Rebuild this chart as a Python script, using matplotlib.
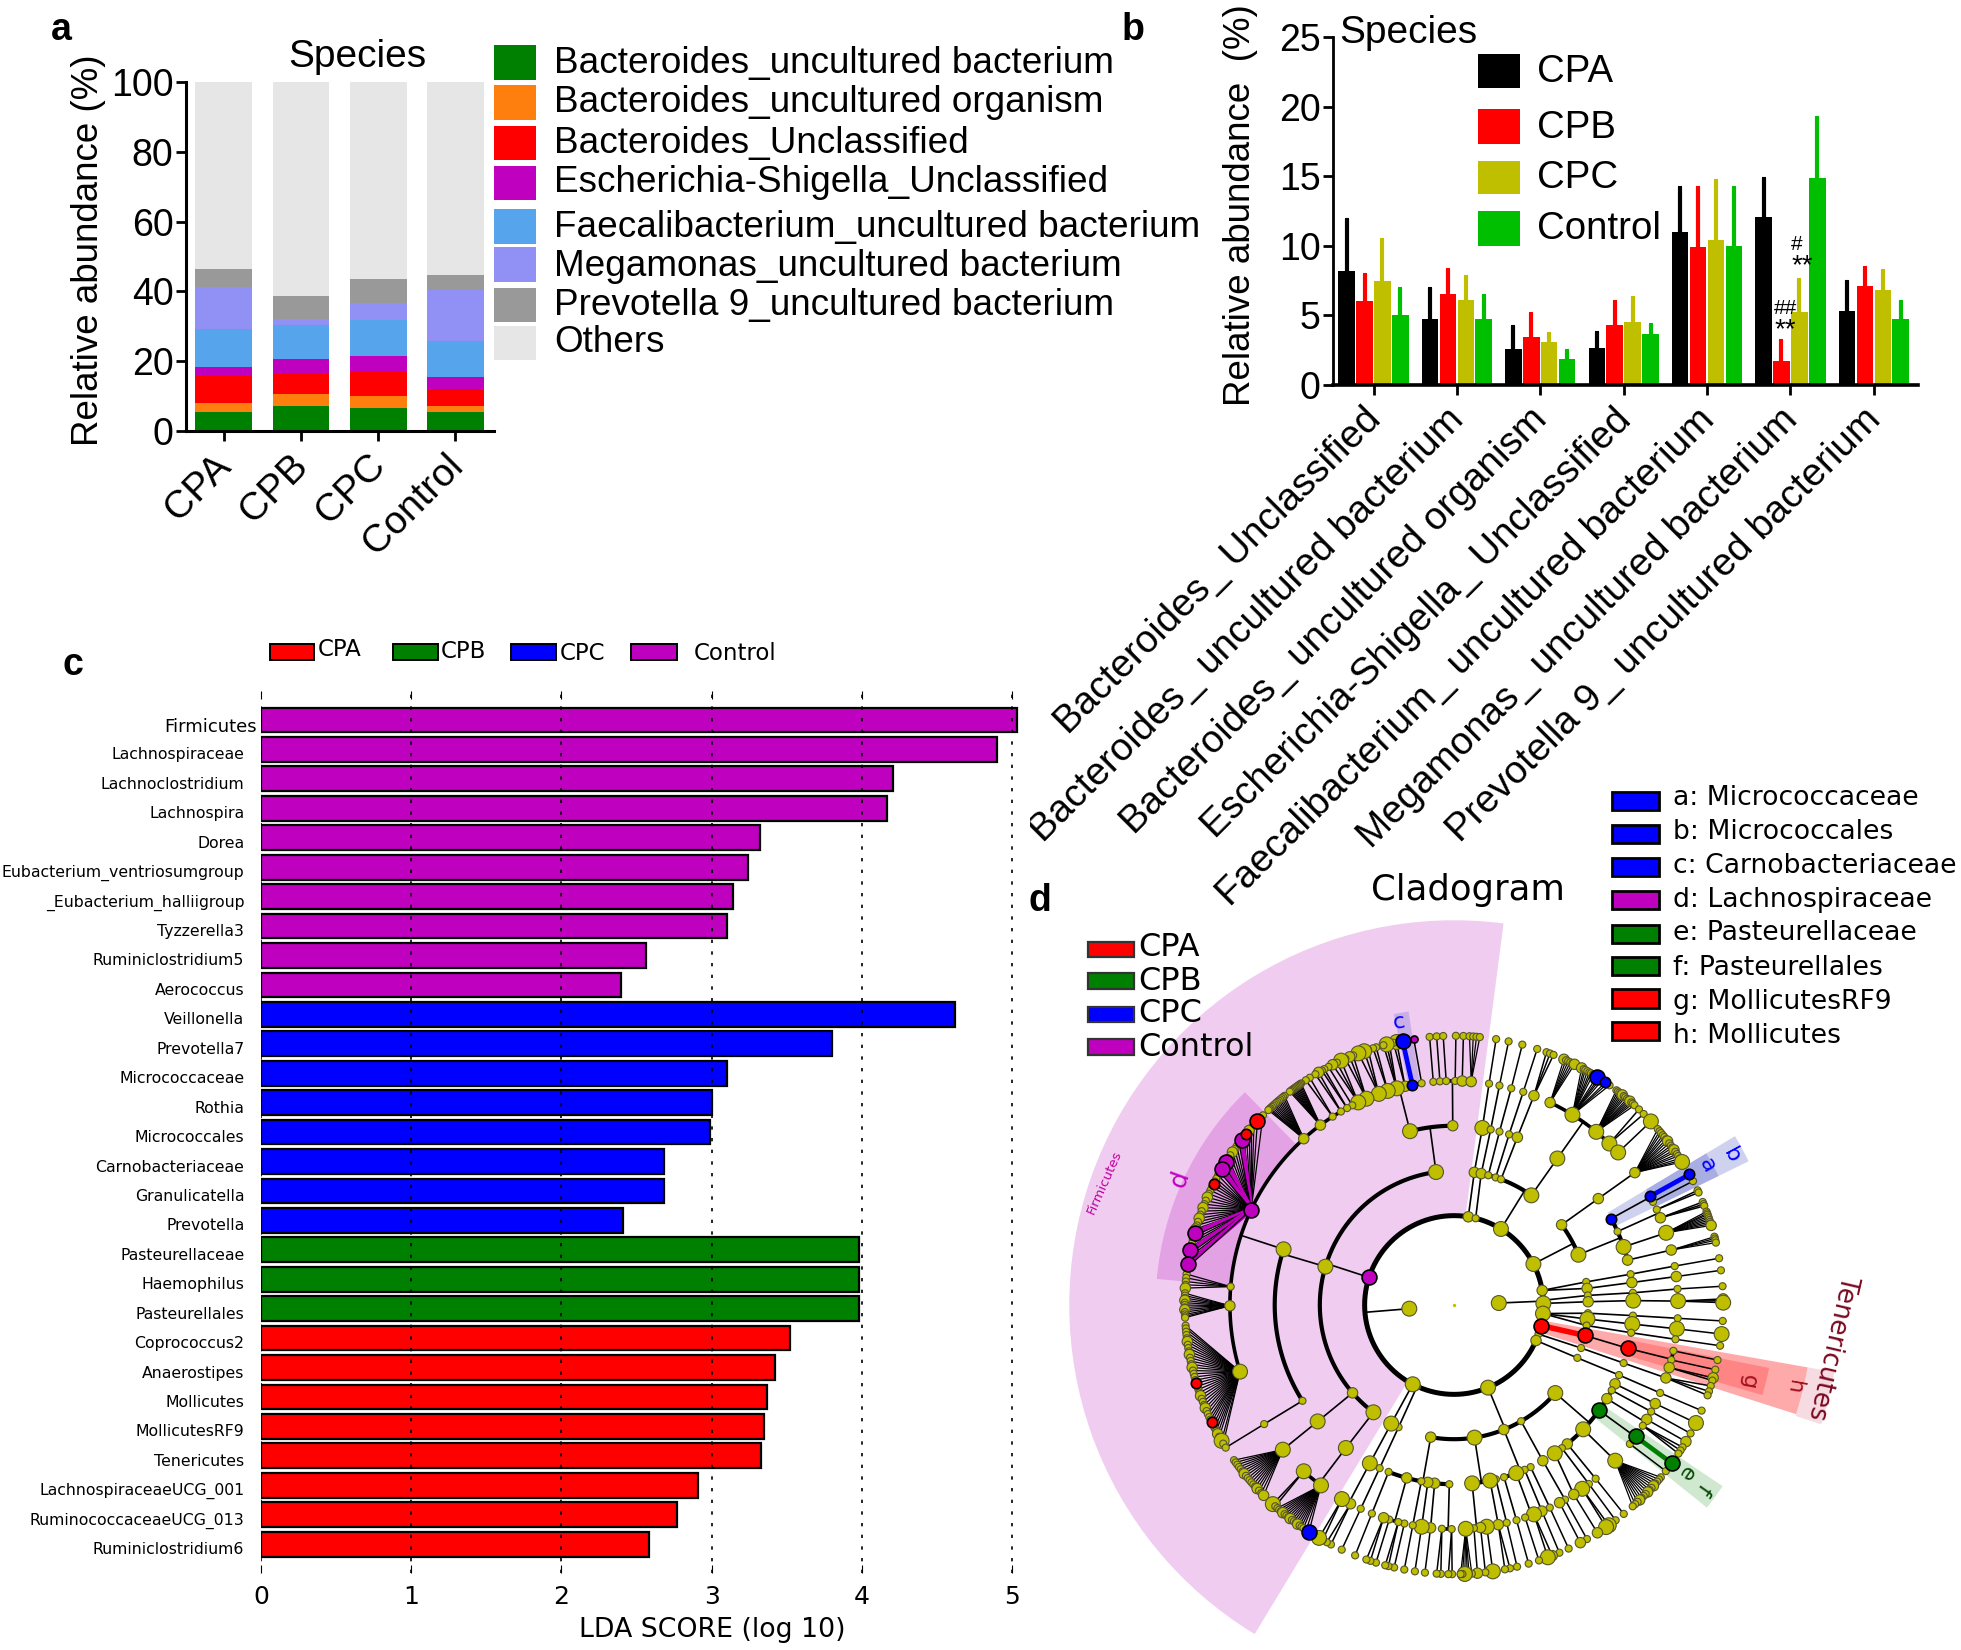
import numpy as np
import matplotlib
matplotlib.use('Agg')
import matplotlib.pyplot as plt
from matplotlib.patches import Rectangle, Wedge
from matplotlib.transforms import ScaledTranslation

plt.rcParams['font.family'] = ['Liberation Sans', 'DejaVu Sans']

W, H = 1961, 1650
RED, GREEN, BLUE, PURPLE = '#ff0000', '#008000', '#0000ff', '#bf00bf'
YEL = '#bfbf00'

# panel a
groups_a = ['CPA', 'CPB', 'CPC', 'Control']
species_a = ['Bacteroides_uncultured bacterium', 'Bacteroides_uncultured organism', 'Bacteroides_Unclassified',
             'Escherichia-Shigella_Unclassified', 'Faecalibacterium_uncultured bacterium',
             'Megamonas_uncultured bacterium', 'Prevotella 9_uncultured bacterium', 'Others']
colors_a = ['#008000', '#ff7f0e', '#ff0000', '#bf00bf', '#56a5ec', '#9090f5', '#999999', '#e6e6e6']
bact_unc = [5.4, 7.1, 6.7, 5.4]
bact_org = [2.5, 3.5, 3.2, 1.8]
bact_uncl = [7.8, 5.7, 7.1, 4.8]
esch = [2.7, 4.2, 4.6, 3.6]
faec = [10.9, 9.9, 10.1, 10.1]
mega = [12.0, 1.6, 5.0, 14.7]
prev = [5.1, 6.6, 6.8, 4.3]
others = [53.6, 61.4, 56.5, 55.3]

# panel b
species_b = ['Bacteroides_ Unclassified', 'Bacteroides_ uncultured bacterium', 'Bacteroides_ uncultured organism',
             'Escherichia-Shigella_ Unclassified', 'Faecalibacterium_ uncultured bacterium',
             'Megamonas_ uncultured bacterium', 'Prevotella 9_ uncultured bacterium']
cpa_mean = [8.2, 4.75, 2.6, 2.65, 11.0, 12.05, 5.35]
cpa_top = [11.9, 7.0, 4.25, 3.8, 14.2, 14.85, 7.45]
cpb_mean = [6.0, 6.55, 3.45, 4.3, 9.9, 1.75, 7.1]
cpb_top = [8.0, 8.35, 5.2, 6.05, 14.2, 3.2, 8.45]
cpc_mean = [7.45, 6.1, 3.1, 4.55, 10.45, 5.25, 6.85]
cpc_top = [10.5, 7.85, 3.75, 6.3, 14.7, 7.65, 8.25]
ctl_mean = [5.0, 4.75, 1.9, 3.65, 9.95, 14.9, 4.75]
ctl_top = [7.0, 6.5, 2.55, 4.4, 14.25, 19.25, 6.05]

# panel c
taxa_c = ['Firmicutes', 'Lachnospiraceae', 'Lachnoclostridium', 'Lachnospira', 'Dorea', 'Eubacterium_ventriosumgroup',
          '_Eubacterium_halliigroup', 'Tyzzerella3', 'Ruminiclostridium5', 'Aerococcus', 'Veillonella', 'Prevotella7',
          'Micrococcaceae', 'Rothia', 'Micrococcales', 'Carnobacteriaceae', 'Granulicatella', 'Prevotella',
          'Pasteurellaceae', 'Haemophilus', 'Pasteurellales', 'Coprococcus2', 'Anaerostipes', 'Mollicutes',
          'MollicutesRF9', 'Tenericutes', 'LachnospiraceaeUCG_001', 'RuminococcaceaeUCG_013', 'Ruminiclostridium6']
lda_c = [5.03, 4.90, 4.21, 4.17, 3.32, 3.24, 3.14, 3.10, 2.56, 2.40, 4.62, 3.80, 3.10, 3.00, 2.99, 2.68, 2.68, 2.41,
         3.98, 3.98, 3.98, 3.52, 3.42, 3.37, 3.35, 3.33, 2.91, 2.77, 2.58]
group_c = [PURPLE] * 10 + [BLUE] * 8 + [GREEN] * 3 + [RED] * 8

# panel d, tree: (angle, abundance class, parent angle)
ring_r = {0: 0.166, 1: 0.331, 2: 0.497, 3: 0.664, 4: 0.83, 5: 0.997}
lv0 = [(184.7, 3), (2.5, 3)]
lv1 = [(162, 3), (80.8, 2), (76, 1), (58.3, 3), (27.3, 3), (9.4, 2), (3, 1), (1, 3), (-5.5, 3), (-13.3, 3), (-19, 1),
       (-23.4, 2), (-67.6, 3), (-114.4, 1), (-117.5, 3)]
lv2 = [(97.7, 3, 162), (163.4, 3, 162), (220.9, 2, 162), (233.1, 3, 162), (81.3, 2, 80.8), (78.3, 2, 76),
       (75.2, 1, 58.3), (71.9, 1, 58.3), (69.5, 1, 58.3), (54.8, 3, 58.3), (36.7, 2, 27.3), (22, 3, 27.3),
       (9.9, 1, 9.4), (7.1, 2, 9.4), (4.1, 1, 3), (1.4, 2, 1), (-3.5, 1, -5.5), (-6, 3, -5.5), (-8.8, 1, -5.5),
       (-13.1, 3, -13.3), (-18.7, 1, -19), (-23.2, 1, -23.4), (-41, 3, -67.6), (-60, 1, -67.6), (-68.2, 2, -67.6),
       (-81.2, 3, -67.6), (-100, 2, -67.6), (-114.4, 1, -114.4), (-117.9, 3, -117.5)]
lv3 = [(104.2, 3, 97.7), (90.4, 2, 97.7), (161.9, 3, 163.4), (212.3, 1, 163.4), (220.5, 3, 220.9), (232.9, 3, 233.1),
       (80.9, 3, 81.3), (78.2, 1, 78.3), (75.3, 1, 75.2), (72.1, 1, 71.9), (69.3, 2, 69.5), (54.8, 3, 54.8),
       (36.4, 2, 36.7), (28.8, 2, 22), (24.2, 1, 22), (18.9, 3, 22), (14.5, 2, 22), (9.9, 1, 9.9), (7.2, 2, 7.1),
       (3.9, 1, 4.1), (1.4, 3, 1.4), (-3.4, 1, -3.5), (-6.1, 3, -6), (-8.9, 1, -8.8), (-14, 3, -13.1),
       (-18.9, 1, -18.7), (-23, 1, -23.2), (-26.1, 2, -41), (-28.4, 1, -41), (-31.5, 2, -41), (-36, 3, -41),
       (-43.9, 3, -41), (-50.8, 2, -41), (-53, 1, -41), (-55.8, 3, -41), (-60.3, 2, -60), (-64.7, 1, -68.2),
       (-66.8, 1, -68.2), (-69.7, 3, -68.2), (-73.8, 1, -68.2), (-76.5, 1, -81.2), (-78.4, 3, -81.2),
       (-84.2, 3, -81.2), (-91.5, 1, -100), (-96.2, 2, -100), (-98.4, 2, -100), (-100.5, 1, -100), (-105.3, 2, -100),
       (-111.4, 1, -100), (-114.5, 1, -114.4), (-118, 3, -117.9)]
lv4 = [(98.3, 1, 104.2), (100.7, 2, 104.2), (102.6, 2, 104.2), (104.8, 3, 104.2), (107.2, 3, 104.2), (109.6, 3, 104.2),
       (113, 3, 104.2), (115.3, 3, 104.2), (117, 1, 161.9), (118.5, 1, 161.9), (120.3, 1, 161.9), (122.8, 1, 161.9),
       (126.6, 2, 161.9), (132.1, 2, 161.9), (154.8, 3, 161.9), (175.3, 1, 161.9), (180.2, 2, 161.9), (197.3, 3, 161.9),
       (95.3, 1, 90.4), (93.6, 1, 90.4), (92, 1, 90.4), (89.7, 1, 90.4), (87.9, 2, 90.4), (85.6, 2, 90.4),
       (212.1, 1, 212.3), (220.2, 3, 220.5), (227.9, 3, 232.9), (233.6, 3, 232.9), (81, 1, 80.9), (78.3, 1, 78.2),
       (75.2, 1, 75.3), (72, 1, 72.1), (69.1, 2, 69.3), (64.6, 2, 54.8), (58.1, 3, 54.8), (50.6, 3, 54.8),
       (46.1, 3, 54.8), (42.9, 3, 54.8), (36.2, 2, 36.4), (29, 2, 28.8), (27.4, 1, 28.8), (25.2, 1, 24.2),
       (22.9, 2, 24.2), (18.8, 3, 18.9), (14.2, 2, 14.5), (10, 1, 9.9), (7.3, 2, 7.2), (4.1, 1, 3.9), (1, 3, 1.4),
       (-3.4, 1, -3.4), (-6.1, 3, -6.1), (-8.8, 1, -8.9), (-11.8, 1, -14), (-14.2, 1, -14), (-16.2, 2, -14),
       (-19, 2, -18.9), (-23.1, 1, -23), (-26.1, 2, -26.1), (-28.4, 1, -28.4), (-30.7, 2, -31.5), (-32.6, 1, -31.5),
       (-35.9, 3, -36), (-38.3, 1, -36), (-44, 3, -43.9), (-50.8, 1, -50.8), (-53, 1, -53), (-55.1, 3, -53),
       (-57.7, 2, -55.8), (-60.3, 1, -60.3), (-61.9, 2, -60.3), (-64.7, 1, -64.7), (-66.9, 2, -66.8), (-69.1, 3, -69.7),
       (-71.5, 1, -69.7), (-73.8, 1, -73.8), (-76.4, 1, -76.5), (-78.6, 2, -78.4), (-81.6, 3, -84.2), (-83.2, 2, -84.2),
       (-84.9, 1, -84.2), (-87, 3, -84.2), (-90.6, 1, -91.5), (-93.1, 1, -91.5), (-96, 2, -96.2), (-98.3, 3, -98.4),
       (-100.6, 1, -100.5), (-102.8, 1, -105.3), (-104.4, 1, -105.3), (-106.8, 1, -105.3), (-108.3, 2, -105.3),
       (-111.5, 1, -111.4), (-114.6, 1, -114.5), (-117.5, 2, -118), (-120, 3, -118)]
# leaves by parent angle on the ring below them
lv5 = {
    98.3: [98.6], 100.7: [101], 102.6: [102.3, 103], 104.8: [103.9, 104.5, 105.2], 107.2: [106.8, 107.5],
    109.6: [108.6, 109.5, 110.8], 113: [112, 112.8, 113.8], 115.3: [114.8, 115.8, 116.8], 117: [117.8],
    118.5: [118.8, 119.4], 120.3: [120.2, 121], 122.8: [122.4, 123.4],
    126.6: [124.6, 124.9, 125.2, 125.5, 125.8, 126.1, 126.4, 126.7, 127, 127.3, 127.6],
    132.1: [129, 129.4, 129.8, 130.2, 130.6, 131, 131.4, 131.8, 132.2, 132.6, 133, 133.3, 133.6],
    154.8: [135.2, 136.9, 138, 138.8, 139.6, 140.5, 141.3, 142.1, 143, 143.8, 144.6, 145.4, 146.2, 147, 147.8, 148.7,
            149.6, 150.4, 151.2, 152, 152.7, 153.3, 154, 154.8, 155.6, 156.4, 157.2, 158, 158.8, 159.6, 160.4, 161.2,
            162, 162.8, 163.6, 164.4, 165.2, 166, 166.8, 167.5, 168.2, 169, 169.8, 170.5, 171.2, 172],
    175.3: [173.4, 174.2, 175, 175.7, 176.4],
    180.2: [177.5, 178, 178.5, 179, 179.5, 180, 180.5, 181, 181.5, 182, 182.4, 182.7],
    197.3: [184.4, 185, 185.7, 186.4, 187.1, 187.8, 188.5, 189.2, 189.9, 190.6, 191.3, 192, 192.7, 193.4, 194.1, 194.8,
            195.5, 196.2, 196.9, 197.6, 198.3, 199, 199.7, 200.4, 201.1, 201.8, 202.5, 203.2, 203.9, 204.6, 205.2,
            205.8, 206.5, 207.2, 207.9, 208.6, 209.3, 210.3, 211],
    95.3: [95.2], 93.6: [93.7], 92: [92.3], 89.7: [89.6], 87.9: [88], 85.6: [86.7, 85.9, 85.2, 84.5],
    212.1: [212],
    220.2: [215.2, 215.8, 216.4, 217, 217.6, 218.2, 218.8, 219.4, 220, 220.6, 221.2, 221.8, 222.4, 223, 223.6, 224.3, 225],
    227.9: [227.7, 228.4],
    233.6: [229, 229.5, 230, 230.5, 231, 231.5, 232, 232.5, 233, 233.5, 234, 234.5, 235, 235.5, 236, 236.7, 237.4],
    81: [81], 78.3: [78.3], 75.2: [75.3], 72: [72], 69.1: [69.9, 69.1, 68.3],
    64.6: [65.9, 65.4, 64.9, 64.4, 63.9, 63.4],
    58.1: [61.7, 61.2, 60.8, 60.3, 59.8, 59.4, 58.9, 58, 57.5, 57.1, 56.6, 55.8, 55.3, 54.7],
    50.6: [52.9, 52.5, 52.1, 51.7, 51.3, 50.9, 50.5, 50, 49.6, 49.2, 48.8, 48.4, 47.9],
    46.1: [46.6, 45.2], 42.9: [43],
    36.2: [40.8, 40.2, 39.7, 39.1, 38.6, 38, 37.5, 36.9, 36.3, 35.8, 35.2, 34.7, 34.1, 33.6, 33, 32.5, 32.1],
    29: [29], 27.4: [27.4], 25.2: [25.2, 24.7], 22.9: [22.5, 22, 21.6],
    18.8: [20.3, 19.9, 19.6, 19.2, 18.8, 18.4, 18, 17.6, 17.2], 14.2: [14.7, 14.3, 13.9, 13.4],
    10: [10], 7.3: [7.4], 4.1: [4], 1: [1.3, 0.9, 0.5], -3.4: [-3.4], -6.1: [-6.2], -8.8: [-8.7],
    -11.8: [-11.8], -14.2: [-13.9], -16.2: [-15.7, -16.3], -19: [-17.5, -18.7, -19.6], -23.1: [-23.1], -26.1: [-26],
    -28.4: [-28.5], -30.7: [-30.5], -32.6: [-31.9, -32.7, -33.5], -35.9: [-36], -38.3: [-38.1],
    -44: [-39.8, -40.4, -41, -41.6, -42.2, -42.8, -43.4, -44, -44.6, -45.2, -45.8, -46.4, -47, -47.7, -48.4],
    -50.8: [-50.9], -53: [-53.1], -55.1: [-54.9, -55.6], -57.7: [-57.8], -60.3: [-60.4], -61.9: [-62],
    -64.7: [-64.8], -66.9: [-66.95], -69.1: [-68.6, -69.6], -71.5: [-71.6], -73.8: [-73.9], -76.4: [-76.45],
    -78.6: [-78, -79.1], -81.6: [-81.7], -83.2: [-83.3], -84.9: [-85],
    -87: [-86.2, -86.8, -87.2, -87.7, -88.2, -88.6], -90.6: [-90.4, -91.2], -93.1: [-92.8, -93.7], -96: [-96.2],
    -98.3: [-98.35], -100.6: [-100.65], -102.8: [-102.85], -104.4: [-104.1, -104.8], -106.8: [-106.85],
    -108.3: [-108.1, -109], -111.5: [-111.55], -114.6: [-114.65], -117.5: [-117.2, -118.2], -120: [-119.2, -120.1],
}
leaf_abund = {102.3: 3, 104.5: 3, 109.5: 3, 110.8: 3, 112.8: 2, 114.8: 3, 116.8: 2, 120.2: 2, 65.9: 2, 63.4: 2, 61.7: 2,
              58: 3, 55.8: 2, 43: 3, 32.1: 3, 29: 2, 101: 3, 136.9: 3, 140.5: 2, 142.1: 3, 147.8: 3, 149.6: 3, 153.3: 2,
              164.4: 3, 168.2: 3, 171.2: 3, 196.9: 2, 205.8: 2, 210.3: 3, 176.4: 2, 227.7: 3, 237.4: 3, -6.2: 3, -26: 3,
              -36: 3, -15.7: 2, -54.9: 3, -55.6: 3, -57.8: 2, -62: 2, -69.6: 3, -68.6: 2, -120.1: 3, -85: 2, -81.7: 3,
              -87.7: 3, 17.2: 2, 0.5: 3, 1.3: 2, 223: 2, 225: 2, -44: 2, -46.4: 2, -30.5: 2, 7.4: 1,
              139.6: 2, 145.4: 2, 156.4: 2, 158.8: 2, 161.2: 2, 163.6: 2, 187.8: 2, 190.6: 2, 193.4: 2, 199.7: 2, 202.5: 2,
              208.6: 2, 179: 2, 181: 2, 230.5: 2, 232.5: 2, 234.5: 2, 218.8: 2, 51.3: 2, 49.2: 2, 35.2: 2, 37.5: 2, -42.2: 2}
marked = {(1, 162): PURPLE, (4, 154.8): PURPLE, (5, 98.6): PURPLE, (5, 142.1): PURPLE, (5, 147.8): PURPLE,
          (5, 149.6): PURPLE, (5, 164.4): PURPLE, (5, 168.2): PURPLE, (5, 171.2): PURPLE,
          (5, 136.9): RED, (5, 140.5): RED, (5, 153.3): RED, (5, 196.9): RED, (5, 205.8): RED,
          (1, -13.3): RED, (2, -13.1): RED, (3, -14): RED,
          (3, 28.8): BLUE, (4, 29): BLUE, (5, 29): BLUE, (4, 100.7): BLUE, (5, 101): BLUE, (5, 58): BLUE,
          (5, 55.8): BLUE, (5, 237.4): BLUE,
          (3, -36): GREEN, (4, -35.9): GREEN, (5, -36): GREEN}
thin_links = [(3, -14), (4, 29)]
straight_from = [(1, 9.4), (1, 3), (1, 1), (1, -5.5)]
arc_lw = {1: 3.6, 2: 3.0, 3: 3.0, 4: 2.6}
node_s = {1: 26, 2: 56, 3: 115}


def px_axes(l, t, r, b):
    return fig.add_axes([l / W, 1 - b / H, (r - l) / W, (b - t) / H])


def polar(r, ang):
    a = np.radians(ang)
    return r * np.cos(a), r * np.sin(a)


def nudge_labels(labels, dx, dy):
    for lab in labels:
        lab.set_transform(lab.get_transform() + ScaledTranslation(dx / 100, dy / 100, fig.dpi_scale_trans))


fig = plt.figure(figsize=(W / 100, H / 100), dpi=100)

# ---- a: stacked bars
ax = px_axes(186, 82, 494, 431)
bottom = np.zeros(4)
for vals, col in zip([bact_unc, bact_org, bact_uncl, esch, faec, mega, prev, others], colors_a):
    ax.bar(range(4), vals, 0.735, bottom=bottom, color=col)
    bottom += np.array(vals)
ax.set_xlim(-0.49, 3.5)
ax.set_ylim(0, 100)
ax.set_yticks([0, 20, 40, 60, 80, 100])
ax.set_xticks(range(4))
ax.set_xticklabels(groups_a, rotation=45, ha='right', va='top', rotation_mode='anchor', fontsize=28)
ax.tick_params(axis='y', labelsize=27, width=2, length=7, pad=2)
ax.tick_params(axis='x', width=2, length=7, pad=5)
nudge_labels(ax.get_xticklabels(), -11, 0)
for s in ['top', 'right']:
    ax.spines[s].set_visible(False)
for s in ['left', 'bottom']:
    ax.spines[s].set_linewidth(2.2)

# ---- b: grouped bars
ax = px_axes(1333, 37, 1918, 385)
step, bw = 0.2146, 0.198
series_b = [(cpa_mean, cpa_top, 'black'), (cpb_mean, cpb_top, '#ff0000'), (cpc_mean, cpc_top, YEL), (ctl_mean, ctl_top, '#00bf00')]
for k, (mean, top, col) in enumerate(series_b):
    xs = np.arange(7) + (k - 1.5) * step
    ax.bar(xs, mean, bw, color=col)
    up = np.array(top) - np.array(mean)
    ax.errorbar(xs, mean, yerr=[np.zeros(7), up], fmt='none', ecolor=col, elinewidth=3, capsize=1.5, capthick=1.5)
ax.set_xlim(-0.486, 6.53)
ax.set_ylim(0, 25)
ax.set_yticks([0, 5, 10, 15, 20, 25])
ax.set_xticks(range(7))
ax.set_xticklabels(species_b, rotation=45, ha='right', va='top', rotation_mode='anchor', fontsize=27.8)
ax.tick_params(axis='y', labelsize=27, width=2, length=7, pad=2)
ax.tick_params(axis='x', width=2, length=7, pad=5)
nudge_labels(ax.get_xticklabels(), -11, 0)
for s in ['top', 'right']:
    ax.spines[s].set_visible(False)
ax.spines['left'].set_linewidth(2.0)
ax.spines['bottom'].set_linewidth(2.6)

# ---- c: LDA bars
ax = px_axes(261, 691, 1030, 1573)
ys = np.arange(len(lda_c))
ax.barh(ys, lda_c, 0.84, color=group_c, edgecolor='black', linewidth=1.6, zorder=2)
ax.set_xlim(0, 769 / 150.2)
ax.set_ylim(28.98, -0.985)
ax.set_xticks([0, 1, 2, 3, 4, 5])
ax.set_yticks(ys)
ax.set_yticklabels(taxa_c, family='DejaVu Sans', fontsize=11.35)
ax.tick_params(axis='y', length=0, pad=12)
ax.tick_params(axis='x', top=True, bottom=True, direction='in', length=6, width=0.8, labelsize=18, pad=9)
for lab in ax.get_xticklabels():
    lab.set_family('DejaVu Sans')
ax.grid(axis='x', linestyle=(0, (2, 5)), color='black', linewidth=1.2, zorder=3)
ax.set_axisbelow(False)
for s in ax.spines.values():
    s.set_visible(False)
for i, lab in enumerate(ax.get_yticklabels()):
    shift = (0, -0.04)
    if i == 0:
        lab.set_fontsize(13)
        shift = (0.13, -0.05)
    lab.set_transform(lab.get_transform() + ScaledTranslation(shift[0], shift[1], fig.dpi_scale_trans))
ax.set_xlabel('LDA SCORE (log 10)', family='DejaVu Sans', fontsize=19.3, labelpad=7)
ax.xaxis.set_label_coords((712 - 261) / 769, -(1630 - 1573) / 882, transform=ax.transAxes)
ax.xaxis.label.set_verticalalignment('center')

# ---- d: cladogram
ax = px_axes(1049, 900, 1859, 1650)
ax.set_xlim(-1.5, 1.5)
ax.set_ylim(-345 / 270, 1.5)
ax.axis('off')
wedges = [(1.425, 82.6, 238.8, 1.094, '#f0cdf0'),
          (1.105, 134.5, 175, 0.275, '#e3a2e3'),
          (1.10, 98.8, 101.7, 0.27, '#c9afe6'),
          (1.43, -18, -10, 0.10, '#f6dbe2'),
          (1.33, -17.7, -10, 1.0, '#ffaaaa'),
          (1.19, -16.3, -11.3, 0.52, '#ff8585'),
          (1.214, 26, 31, 0.55, '#cfd2ef'),
          (1.09, 26, 31, 0.26, '#a9aee2'),
          (1.2, -38.7, -34, 0.53, '#cfe8cf')]
for r, t0, t1, wd, col in wedges:
    ax.add_patch(Wedge((0, 0), r, t0, t1, width=wd, facecolor=col, edgecolor='none', zorder=1))

# ring of class level, closed all the way round
a = np.linspace(0, 360, 361)
ax.plot(*polar(ring_r[1], a), color='black', lw=arc_lw[1], zorder=2)

nodes = {0: [(t[0], t[1], None) for t in lv0], 1: [(t[0], t[1], None) for t in lv1], 2: lv2, 3: lv3, 4: lv4}
nodes[5] = [(leaf, leaf_abund.get(leaf, 1), par) for par, leaves in lv5.items() for leaf in leaves]

for ang, ab in lv0:
    ax.plot(*polar(np.array([ring_r[0], ring_r[1]]), np.array([ang, ang])), color='black', lw=1.2, zorder=2)

for lev in [2, 3, 4]:
    parents = sorted(set(t[2] for t in nodes[lev]))
    for par in parents:
        kids = [t[0] for t in nodes[lev] if t[2] == par]
        par_col = marked.get((lev - 1, par))
        if (lev - 1, par) in straight_from or len(kids) == 1:
            for kid in kids:
                col = marked.get((lev, kid))
                if col is not None and col == par_col and (lev, kid) not in thin_links:
                    c, w = col, 4.0
                else:
                    c, w = (col if col == BLUE and par_col == BLUE else 'black'), 1.2
                ax.plot(*polar(np.array([ring_r[lev - 1], ring_r[lev]]), np.array([par, kid])), color=c, lw=w, zorder=2)
        else:
            ax.plot(*polar(np.array([ring_r[lev - 1], ring_r[lev]]), np.array([par, par])), color='black', lw=1.2, zorder=2)
            span = kids + [par]
            a = np.linspace(min(span), max(span), 60)
            ax.plot(*polar(ring_r[lev], a), color='black', lw=arc_lw[lev], zorder=2)

for leaf, ab, par in nodes[5]:
    par_col = marked.get((4, par))
    col = marked.get((5, leaf))
    n_kids = len(lv5[par])
    if col is not None and col == par_col:
        c, w = col, 3.4
    else:
        c, w = 'black', 1.1 if n_kids <= 3 else 0.9
    ax.plot(*polar(np.array([ring_r[4], ring_r[5]]), np.array([par, leaf])), color=c, lw=w, zorder=2)

for lev in [5, 4, 3, 2, 1, 0]:
    plain = [t for t in nodes[lev] if (lev, t[0]) not in marked]
    xs, ys = polar(ring_r[lev], np.array([t[0] for t in plain]))
    ax.scatter(xs, ys, s=[node_s[t[1]] for t in plain], c=YEL, edgecolors='#55552a', linewidths=0.8, zorder=3 + (5 - lev) * 0.01)
for (lev, ang), col in marked.items():
    ab = [t[1] for t in nodes[lev] if t[0] == ang][0]
    ax.scatter(*polar(ring_r[lev], ang), s=node_s[ab], c=col, edgecolors='black', linewidths=1.2, zorder=4)
ax.scatter([0], [0], s=2, c=YEL, zorder=3)

# ---- overlay for legends and panel letters, in reference pixels
ov = fig.add_axes([0, 0, 1, 1])
ov.set_xlim(0, W)
ov.set_ylim(H, 0)
ov.axis('off')
ov.patch.set_alpha(0)


def swatch(x0, y0, x1, y1, col, ec='none', lw=0):
    ov.add_patch(Rectangle((x0, y0), x1 - x0, y1 - y0, facecolor=col, edgecolor=ec, linewidth=lw))


for letter, x, y in [('a', 61, 30), ('b', 1133, 30), ('c', 73, 665), ('d', 1040, 901)]:
    ov.text(x, y, letter, fontsize=27, fontweight='bold', ha='center', va='center')

ov.text(357, 57, 'Species', fontsize=28, ha='center', va='center')
rows_a = [(45, 80, 64), (85, 120, 103), (126, 160, 143), (166, 200, 183), (209, 244, 227), (247, 282, 266), (288, 322, 306), (326, 360, 343)]
for (y0, y1, yt), name, col in zip(rows_a, species_a, colors_a):
    swatch(494, y0, 536, y1, col)
    ov.text(554, yt, name, fontsize=26.6, va='center')
ov.text(89, 250, 'Relative abundance (%)', fontsize=26.5, rotation=90, ha='center', va='center')
ov.text(1240, 205, 'Relative abundance  (%)', fontsize=26.5, rotation=90, ha='center', va='center')

ov.text(1339, 33, 'Species', fontsize=28, va='center')
rows_b = [(54, 88, 72, 'CPA', 'black'), (109, 144, 128, 'CPB', '#ff0000'), (161, 194, 178, 'CPC', YEL), (211, 246, 229, 'Control', '#00bf00')]
for y0, y1, yt, name, col in rows_b:
    swatch(1478, y0, 1520, y1, col)
    ov.text(1537, yt, name, fontsize=27.6, va='center')
ov.text(1797, 245, '#', fontsize=15, ha='center', va='center')
ov.text(1802, 266, '**', fontsize=20, ha='center', va='center')
ov.text(1785, 308, '##', fontsize=15, ha='center', va='center')
ov.text(1785, 330, '**', fontsize=20, ha='center', va='center')

dv = 'DejaVu Sans'
rows_c = [(270, 314, 318, 650, 'CPA', RED), (393, 438, 441, 651, 'CPB', GREEN), (511, 556, 560, 653, 'CPC', BLUE), (631, 677, 694, 653, 'Control', PURPLE)]
for x0, x1, xt, yt, name, col in rows_c:
    swatch(x0, 644, x1, 660, col, 'black', 1.4)
    ov.text(xt, yt, name, family=dv, fontsize=16.5, va='center')

ov.text(1468, 890, 'Cladogram', family=dv, fontsize=25.5, ha='center', va='center')
rows_d = [(942, 957, 948, 'CPA', RED), (973, 989, 981, 'CPB', GREEN), (1007, 1022, 1014, 'CPC', BLUE), (1039, 1055, 1047, 'Control', PURPLE)]
for y0, y1, yt, name, col in rows_d:
    swatch(1088, y0, 1134, y1, col, '#333333', 1.6)
    ov.text(1138, yt, name, family=dv, fontsize=23, va='center')
rows_e = [(792, 810, 798, 'a: Micrococcaceae', BLUE), (825, 843, 832, 'b: Micrococcales', BLUE), (858, 876, 866, 'c: Carnobacteriaceae', BLUE),
          (891, 909, 900, 'd: Lachnospiraceae', PURPLE), (925, 943, 933, 'e: Pasteurellaceae', GREEN), (957, 975, 968, 'f: Pasteurellales', GREEN),
          (989, 1008, 1002, 'g: MollicutesRF9', RED), (1022, 1040, 1036, 'h: Mollicutes', RED)]
for y0, y1, yt, name, col in rows_e:
    swatch(1612, y0, 1659, y1, col, 'black', 2)
    ov.text(1673, yt, name, family=dv, fontsize=19.2, va='center')

ov.text(1104, 1182, 'Firmicutes', family=dv, fontsize=9.5, color='#c000a0', rotation=66, ha='center', va='center')
ov.text(1180, 1179, 'd', family=dv, fontsize=18, color=PURPLE, rotation=70, ha='center', va='center')
ov.text(1399, 1022, 'c', family=dv, fontsize=16, color=BLUE, rotation=8, ha='center', va='center')
ov.text(1707, 1165, 'a', family=dv, fontsize=16, color=BLUE, rotation=-62, ha='center', va='center')
ov.text(1732, 1155, 'b', family=dv, fontsize=16, color=BLUE, rotation=-62, ha='center', va='center')
ov.text(1748, 1382, 'g', family=dv, fontsize=16, color='#a01020', rotation=-100, ha='center', va='center')
ov.text(1794, 1387, 'h', family=dv, fontsize=16, color='#a01020', rotation=-100, ha='center', va='center')
ov.text(1686, 1473, 'e', family=dv, fontsize=16, color='#064a06', rotation=-125, ha='center', va='center')
ov.text(1703, 1489, 'f', family=dv, fontsize=16, color='#064a06', rotation=-125, ha='center', va='center')
ov.text(1832, 1347, 'Tenericutes', family=dv, fontsize=18.5, color='#7a0a20', rotation=-103, ha='center', va='center')

fig.savefig('out.png', dpi=100)
